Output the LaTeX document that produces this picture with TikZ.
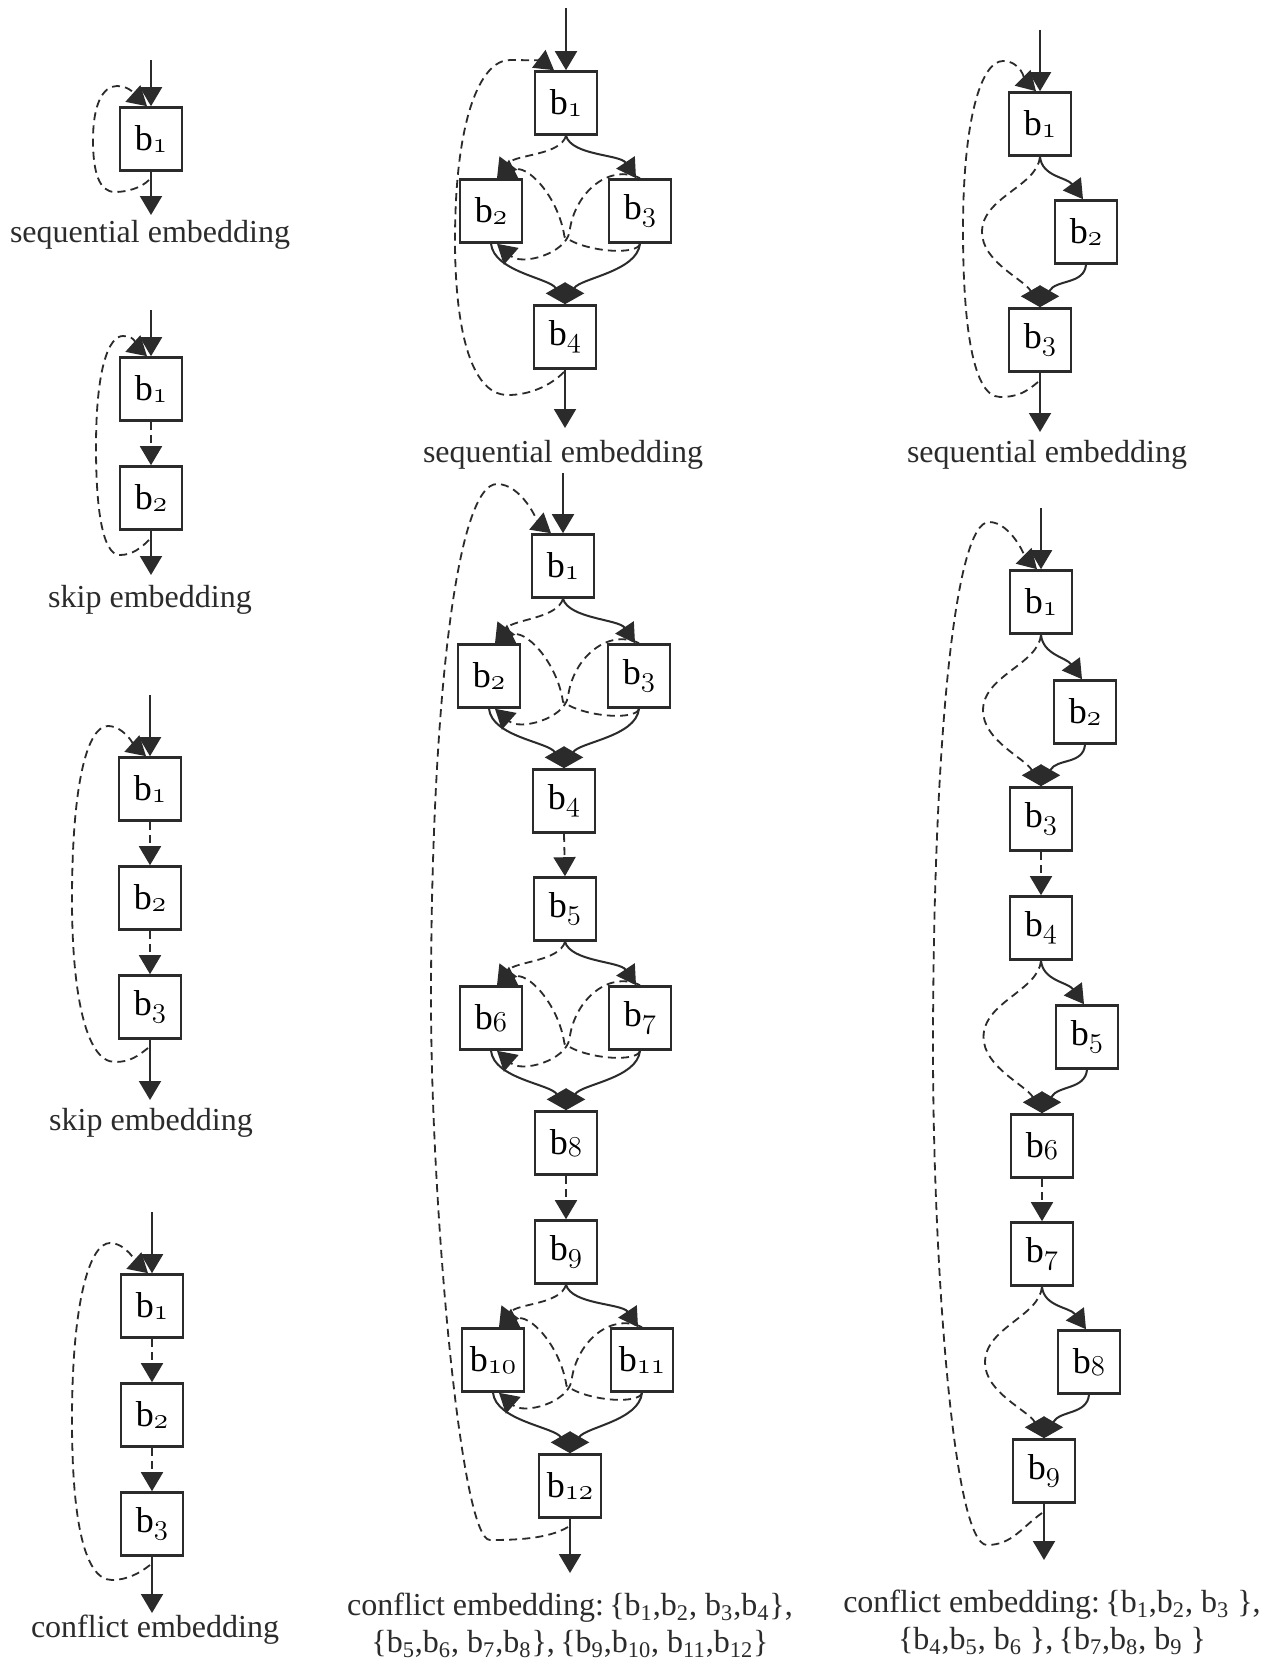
\documentclass[tikz,border=0pt]{standalone}
\usepackage{fontspec}
\setmainfont{Liberation Serif}
\usetikzlibrary{arrows.meta,calc}
\definecolor{ink}{HTML}{2B2B2B}
% block label: b with an old-style subscript digit
\newcommand\bl[1]{b\raisebox{-1.2pt}{\fontsize{14}{14}\usefont{OML}{lmm}{m}{it}#1}}
% caption block name with a subscript
\newcommand\bs[1]{b\textsubscript{#1}}
\tikzset{
  blk/.style={draw=ink, line width=1.3pt, minimum width=31pt, minimum height=31.5pt,
    inner sep=0pt, font=\fontsize{18}{20}\selectfont},
  flow/.style={draw=ink, line width=1pt, -{Triangle[length=9.5pt,width=11pt]}},
  skipflow/.style={flow, line width=0.9pt, dash pattern=on 4pt off 2.6pt},
  captxt/.style={font=\fontsize{16}{18.5}\selectfont, text=ink, align=center},
}
% branch into two parallel blocks and join again
\newcommand\forkjoin[4]{%
  \draw[skipflow] (#1.south) .. controls +(-6,20) and +(18,-24) .. ([xshift=3pt]#2.north);
  \draw[flow] (#1.south) .. controls +(6,20) and +(-16,-24) .. ([xshift=-2pt]#3.north);
  \draw[skipflow] (#3.south) .. controls +(-3,12) and +(20,15) ..
    ($(#2.south)!0.5!(#3.south)+(-1,-7)$) .. controls +(-6,-40) and +(30,-15) .. ([xshift=3pt]#2.north);
  \draw[skipflow] (#3.north) .. controls +(-30,-15) and +(5,-40) ..
    ($(#2.south)!0.5!(#3.south)+(4,-12)$) .. controls +(-4,22) and +(25,22) .. ([xshift=3pt]#2.south);
  \draw[flow] (#2.south) .. controls +(3,28) and +(-15,-26) .. (#4.north);
  \draw[flow] (#3.south) .. controls +(-3,28) and +(15,-26) .. (#4.north);
}
% optional side block with a bypass on the left
\newcommand\sidestep[3]{%
  \draw[flow] (#1.south) .. controls +(2,20) and +(-16,-22) .. ([xshift=-1.5pt]#2.north);
  \draw[skipflow] (#1.south) .. controls +(-3,30) and +(0,-35) ..
    ($(#1.south)!0.5!(#3.north)+(-58,0)$) .. controls +(0,30) and +(-16,-28) .. (#3.north);
  \draw[flow] (#2.south) .. controls +(-2,20) and +(16,-28) .. (#3.north);
}
\begin{document}
\begin{tikzpicture}[x=0.5pt,y=-0.5pt]
\fill[white] (0,0) rectangle (1275,1659);
\useasboundingbox (0,0) rectangle (1275,1659);

% ---------- left column ----------
% sequential embedding, one block
\node[blk] (a1) at (151,139) {\bl1};
\coordinate (aIn) at (151,60);
\coordinate (aOut) at (151,215);
\coordinate (aS) at (149,180);
\draw[flow] (aIn) -- (a1.north);
\draw[flow] (a1.south) -- (aOut);
\draw[skipflow] (aS) .. controls +(-8,8) and +(12,0) .. (115,192)
  .. controls +(-16,0) and +(0,32) .. (93,140)
  .. controls +(0,-36) and +(-14,0) .. (117,86)
  .. controls +(14,0) and +(-10,-9) .. ([xshift=-2pt]a1.north);
\node[captxt] (aCap) at (150,235) {sequential embedding};

% skip embedding, two blocks
\node[blk] (b1) at (151,389) {\bl1};
\node[blk] (b2) at (151,498) {\bl2};
\coordinate (bIn) at (151,310);
\coordinate (bOut) at (151,575);
\coordinate (bS) at (149,540);
\draw[flow] (bIn) -- (b1.north);
\draw[skipflow] (b1.south) -- (b2.north);
\draw[flow] (b2.south) -- (bOut);
\draw[skipflow] (bS) .. controls +(-8,8) and +(12,0) .. (120,555)
  .. controls +(-18,0) and +(0,60) .. (96,447)
  .. controls +(0,-80) and +(-14,0) .. (123,336)
  .. controls +(14,0) and +(-10,-9) .. ([xshift=-2pt]b1.north);
\node[captxt] (bCap) at (150,600) {skip embedding};

% skip embedding, three blocks
\node[blk] (c1) at (150,789) {\bl1};
\node[blk] (c2) at (150,898) {\bl2};
\node[blk] (c3) at (150,1007) {\bl3};
\coordinate (cIn) at (150,695);
\coordinate (cOut) at (150,1100);
\coordinate (cS) at (148,1048);
\draw[flow] (cIn) -- (c1.north);
\draw[skipflow] (c1.south) -- (c2.north);
\draw[skipflow] (c2.south) -- (c3.north);
\draw[flow] (c3.south) -- (cOut);
\draw[skipflow] (cS) .. controls +(-10,8) and +(15,0) .. (115,1062)
  .. controls +(-30,0) and +(0,90) .. (72,900)
  .. controls +(0,-120) and +(-20,0) .. (108,726)
  .. controls +(16,0) and +(-10,-9) .. ([xshift=-2pt]c1.north);
\node[captxt] (cCap) at (151,1123) {skip embedding};

% conflict embedding, three blocks
\node[blk] (d1) at (152,1306) {\bl1};
\node[blk] (d2) at (152,1415) {\bl2};
\node[blk] (d3) at (152,1524) {\bl3};
\coordinate (dIn) at (152,1212);
\coordinate (dOut) at (152,1613);
\coordinate (dS) at (150,1565);
\draw[flow] (dIn) -- (d1.north);
\draw[skipflow] (d1.south) -- (d2.north);
\draw[skipflow] (d2.south) -- (d3.north);
\draw[flow] (d3.south) -- (dOut);
\draw[skipflow] (dS) .. controls +(-10,8) and +(15,0) .. (112,1580)
  .. controls +(-30,0) and +(0,90) .. (72,1420)
  .. controls +(0,-120) and +(-20,0) .. (110,1243)
  .. controls +(16,0) and +(-10,-9) .. ([xshift=-2pt]d1.north);
\node[captxt] (dCap) at (155,1630) {conflict embedding};

% ---------- middle column ----------
% sequential embedding with one fork
\node[blk] (e1) at (566,103) {\bl1};
\node[blk] (e2) at (491,211) {\bl2};
\node[blk] (e3) at (640,211) {\bl3};
\node[blk] (e4) at (565,337) {\bl4};
\coordinate (eIn) at (566,8);
\coordinate (eOut) at (565,428);
\coordinate (eS) at (564,372);
\draw[flow] (eIn) -- (e1.north);
\forkjoin{e1}{e2}{e3}{e4}
\draw[flow] (e4.south) -- (eOut);
\draw[skipflow] (eS) .. controls +(-15,15) and +(20,0) .. (508,395)
  .. controls +(-40,0) and +(0,80) .. (455,240)
  .. controls +(0,-120) and +(-30,0) .. (510,60)
  .. controls +(20,0) and +(-12,-9) .. ([xshift=-6pt]e1.north);
\node[captxt] (eCap) at (563,455) {sequential embedding};

% conflict embedding with three forks
\node[blk] (f1) at (563,566) {\bl1};
\node[blk] (f2) at (489,676) {\bl2};
\node[blk] (f3) at (639,676) {\bl3};
\node[blk] (f4) at (564,801) {\bl4};
\node[blk] (f5) at (565,909) {\bl5};
\node[blk] (f6) at (491,1018) {\bl6};
\node[blk] (f7) at (640,1018) {\bl7};
\node[blk] (f8) at (566,1143) {\bl8};
\node[blk] (f9) at (566,1252) {\bl9};
\node[blk] (f10) at (493,1360) {\bl{10}};
\node[blk] (f11) at (642,1360) {\bl{11}};
\node[blk] (f12) at (570,1486) {\bl{12}};
\coordinate (fIn) at (563,473);
\coordinate (fOut) at (570,1573);
\coordinate (fS) at (568,1527);
\draw[flow] (fIn) -- (f1.north);
\forkjoin{f1}{f2}{f3}{f4}
\draw[skipflow] (f4.south) -- (f5.north);
\forkjoin{f5}{f6}{f7}{f8}
\draw[skipflow] (f8.south) -- (f9.north);
\forkjoin{f9}{f10}{f11}{f12}
\draw[flow] (f12.south) -- (fOut);
\draw[skipflow] (fS) .. controls +(-20,12) and +(25,0) .. (490,1540)
  .. controls +(-30,0) and +(0,200) .. (431,1000)
  .. controls +(0,-300) and +(-40,0) .. (497,484)
  .. controls +(25,0) and +(-12,-10) .. ([xshift=-6pt]f1.north);
\node[captxt] (fCap) at (570,1625)
  {conflict embedding:\,\{\bs1,\bs2, \bs3,\bs4\},\\
   \{\bs5,\bs6, \bs7,\bs8\},\,\{\bs9,\bs{10}, \bs{11},\bs{12}\}};

% ---------- right column ----------
% sequential embedding with one side block
\node[blk] (g1) at (1040,124) {\bl1};
\node[blk] (g2) at (1086,232) {\bl2};
\node[blk] (g3) at (1040,340) {\bl3};
\coordinate (gIn) at (1040,30);
\coordinate (gOut) at (1040,432);
\coordinate (gS) at (1038,382);
\draw[flow] (gIn) -- (g1.north);
\sidestep{g1}{g2}{g3}
\draw[flow] (g3.south) -- (gOut);
\draw[skipflow] (gS) .. controls +(-12,10) and +(18,0) .. (1000,397)
  .. controls +(-30,0) and +(0,80) .. (963,230)
  .. controls +(0,-110) and +(-22,0) .. (1003,61)
  .. controls +(18,0) and +(-10,-10) .. ([xshift=-2pt]g1.north);
\node[captxt] (gCap) at (1047,455) {sequential embedding};

% conflict embedding with three side blocks
\node[blk] (h1) at (1041,602) {\bl1};
\node[blk] (h2) at (1085,712) {\bl2};
\node[blk] (h3) at (1041,819) {\bl3};
\node[blk] (h4) at (1041,928) {\bl4};
\node[blk] (h5) at (1087,1037) {\bl5};
\node[blk] (h6) at (1042,1146) {\bl6};
\node[blk] (h7) at (1042,1254) {\bl7};
\node[blk] (h8) at (1089,1362) {\bl8};
\node[blk] (h9) at (1044,1471) {\bl9};
\coordinate (hIn) at (1041,508);
\coordinate (hOut) at (1044,1560);
\coordinate (hS) at (1042,1513);
\draw[flow] (hIn) -- (h1.north);
\sidestep{h1}{h2}{h3}
\draw[skipflow] (h3.south) -- (h4.north);
\sidestep{h4}{h5}{h6}
\draw[skipflow] (h6.south) -- (h7.north);
\sidestep{h7}{h8}{h9}
\draw[flow] (h9.south) -- (hOut);
\draw[skipflow] (hS) .. controls +(-20,14) and +(25,0) .. (987,1545)
  .. controls +(-35,0) and +(0,200) .. (933,1050)
  .. controls +(0,-300) and +(-35,0) .. (989,522)
  .. controls +(22,0) and +(-10,-10) .. ([xshift=-2pt]h1.north);
\node[captxt] (hCap) at (1052,1622)
  {conflict embedding:\,\{\bs1,\bs2, \bs3 \},\\
   \{\bs4,\bs5, \bs6 \},\,\{\bs7,\bs8, \bs9 \}};
\end{tikzpicture}
\end{document}
